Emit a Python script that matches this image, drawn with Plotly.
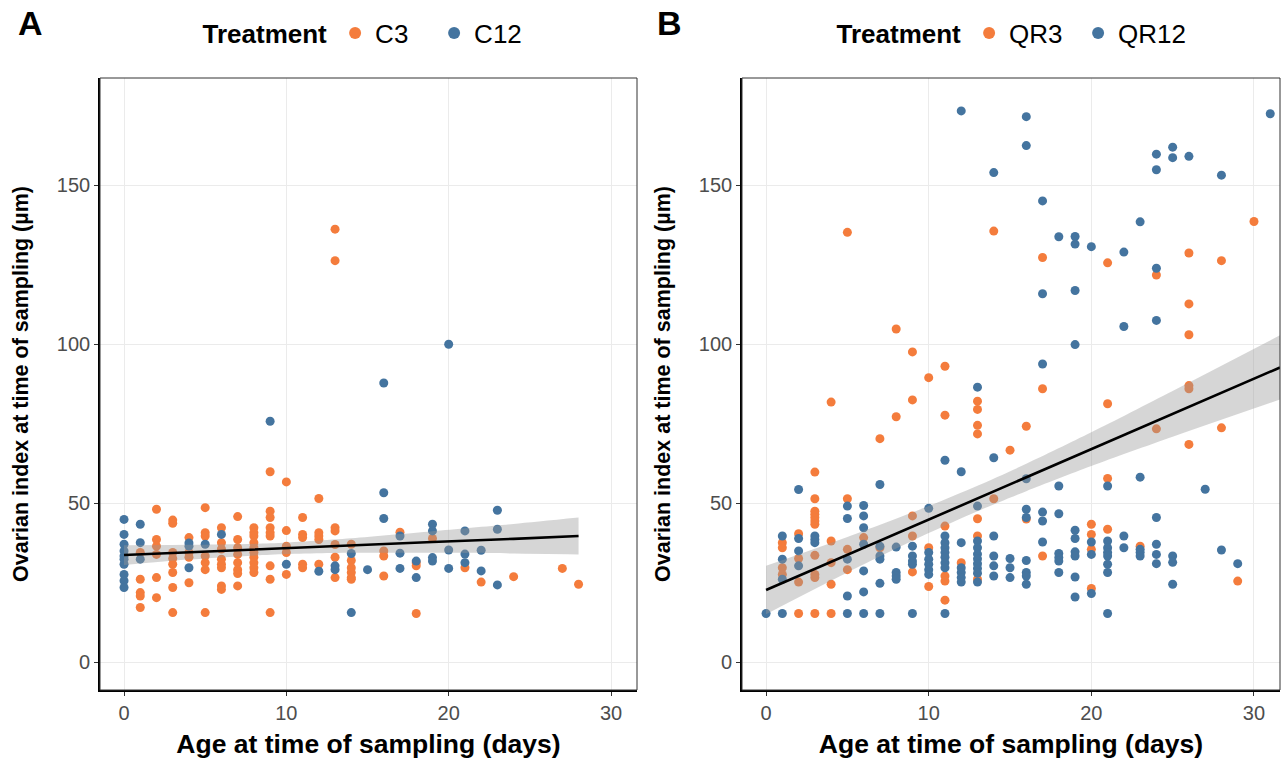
import numpy as np
import plotly.graph_objects as go
from plotly.subplots import make_subplots

# ---------------- Panel A data (C3 orange, C12 blue) ----------------
a_c12 = {
    0: [44.9, 40.2, 37.1, 35.0, 33.4, 32.4, 30.8, 27.6, 25.6, 23.5],
    1: [43.4, 37.6, 32.4],
    4: [37.5, 36.5, 29.7],
    5: [37.1],
    6: [40.2],
    9: [75.8],
    10: [30.8],
    12: [28.6],
    13: [30.3, 29.1],
    14: [34.2, 15.6],
    15: [29.1],
    16: [87.8, 53.3, 45.2],
    17: [39.7, 34.3, 29.5],
    18: [31.8, 26.6],
    19: [43.4, 41.3, 32.9, 31.8],
    20: [100.0, 35.3, 29.5],
    21: [41.3, 34.0, 31.3],
    22: [35.2, 28.7],
    23: [47.8, 41.8, 24.3],
}
a_c3 = {
    1: [34.5, 26.1, 21.9, 20.8, 17.2],
    2: [48.1, 38.6, 36.5, 33.9, 26.6, 20.3],
    3: [44.7, 43.7, 34.5, 32.6, 30.8, 28.2, 23.5, 15.6],
    4: [39.2, 34.5, 33.0, 25.0],
    5: [48.6, 40.7, 39.7, 33.4, 31.3, 29.1, 15.6],
    6: [42.3, 37.6, 35.6, 32.4, 30.8, 29.7, 24.0, 22.9],
    7: [45.8, 38.6, 36.0, 33.9, 31.3, 29.1, 27.9, 24.0],
    8: [42.3, 40.7, 39.7, 37.6, 36.0, 34.5, 33.0, 31.3, 29.7, 28.2],
    9: [59.9, 47.5, 45.5, 42.3, 40.7, 39.7, 30.3, 26.1, 15.6],
    10: [56.7, 41.4, 36.5, 34.5, 27.6],
    11: [45.5, 40.2, 39.2, 30.8, 29.7],
    12: [51.5, 40.7, 39.7, 38.6, 30.8],
    13: [136.2, 126.3, 42.3, 41.3, 37.0, 33.0, 26.6],
    14: [37.1, 32.0, 29.7, 28.2, 26.6, 26.1],
    16: [35.0, 33.4, 27.1],
    17: [40.9],
    18: [31.3, 30.3, 15.3],
    19: [38.9],
    21: [29.7],
    22: [25.2],
    24: [26.9],
    27: [29.5],
    28: [24.5],
}

# ---------------- Panel B data (QR3 orange, QR12 blue) ----------------
b_qr3 = {
    1: [37.6, 36.0, 29.7, 27.6],
    2: [40.4, 32.6, 25.2, 15.3],
    3: [59.8, 51.4, 47.5, 46.5, 45.5, 44.4, 43.4, 33.6, 27.6, 26.6, 15.3],
    4: [81.8, 38.1, 31.3, 24.5, 15.3],
    5: [135.2, 51.4, 35.5, 29.1],
    6: [39.2],
    7: [70.3, 36.0],
    8: [104.8, 77.2],
    9: [97.6, 82.5, 46.0, 39.7, 28.4],
    10: [89.5, 36.0, 23.8],
    11: [93.1, 77.7, 42.8, 27.1, 25.5, 19.5],
    12: [31.3],
    13: [82.1, 79.5, 74.5, 71.8, 45.1, 39.7, 26.1],
    14: [135.6, 51.4],
    15: [66.7],
    16: [74.2, 45.0],
    17: [127.3, 86.0, 33.4],
    20: [43.4, 40.2, 35.5, 23.2],
    21: [125.6, 81.3, 57.8, 41.8],
    23: [36.5],
    24: [121.8, 73.4],
    26: [128.7, 112.7, 103.0, 87.0, 86.0, 68.5],
    28: [126.3, 73.7],
    29: [25.5],
    30: [138.6],
}
b_qr12 = {
    0: [15.3],
    1: [39.7, 32.4, 26.1, 15.3],
    2: [54.3, 38.9, 35.0, 30.3],
    3: [39.7, 38.6, 37.6],
    5: [49.1, 45.2, 32.4, 20.8, 15.3],
    6: [49.3, 46.0, 42.3, 37.1, 28.7, 22.1, 15.3],
    7: [55.9, 36.5, 33.4, 32.4, 24.8, 15.3],
    8: [36.2, 28.2, 27.1, 26.1],
    9: [36.5, 33.4, 31.8, 30.8, 15.3],
    10: [48.4, 34.5, 32.4, 30.8, 29.1, 27.6],
    11: [63.5, 39.7, 37.6, 36.0, 34.5, 33.0, 31.3, 29.7, 15.3],
    12: [173.4, 59.9, 37.6, 29.7, 28.2, 26.6, 25.2],
    13: [86.5, 49.1, 38.1, 36.0, 34.0, 32.5, 31.0, 29.5, 28.0, 25.2],
    14: [154.0, 64.3, 39.7, 33.4, 30.3, 27.1],
    15: [32.6, 29.7, 26.6],
    16: [171.6, 162.5, 57.7, 48.1, 45.5, 32.0, 28.2, 27.1, 24.5],
    17: [145.1, 115.9, 93.8, 47.2, 44.4, 37.8],
    18: [133.8, 55.4, 46.7, 34.2, 32.9, 31.8, 28.2],
    19: [133.9, 131.5, 116.9, 99.9, 41.5, 38.9, 34.7, 33.4, 26.8, 20.5],
    20: [130.7, 37.8, 33.9, 21.6],
    21: [55.4, 38.1, 36.0, 34.5, 33.4, 30.8, 28.2, 15.3],
    22: [129.0, 105.6, 39.7, 36.0],
    23: [138.5, 58.2, 35.5, 34.5, 33.4],
    24: [159.8, 154.9, 123.9, 107.5, 45.5, 37.1, 33.9, 31.0],
    25: [162.0, 158.7, 33.4, 31.4, 24.5],
    26: [159.1],
    27: [54.4],
    28: [153.2, 35.3],
    29: [31.0],
    31: [172.5],
}

# ---------------- Fitted line and 95% band ----------------
fitA_x = [0, 4, 9, 14, 19, 24, 28]
fitA_y = [33.7, 34.6, 35.6, 36.7, 37.8, 38.8, 39.7]
fitA_lo = [30.6, 32.3, 33.8, 34.4, 34.4, 34.2, 33.9]
fitA_hi = [36.8, 36.9, 37.4, 39.0, 41.2, 43.5, 45.5]

fitB_x = [0, 5, 10, 13, 16, 20, 25, 31.6]
fitB_y = [22.7, 33.8, 44.9, 51.5, 58.1, 67.0, 78.1, 92.7]
fitB_lo = [15.1, 28.2, 40.6, 47.5, 53.8, 61.7, 70.9, 82.6]
fitB_hi = [30.3, 39.4, 49.1, 55.5, 62.4, 72.3, 85.3, 102.8]

x_ticks = [0, 10, 20, 30]
y_ticks = [0, 50, 100, 150]
ORANGE = "#F47C3C"
BLUE = "#44749F"


def flatten(d):
    xs, ys = [], []
    for k, vals in d.items():
        for v in vals:
            xs.append(k)
            ys.append(v)
    return xs, ys


fig = make_subplots(rows=1, cols=2)

panels = [
    (1, a_c3, a_c12, "C3", "C12", "legend", (fitA_x, fitA_y, fitA_lo, fitA_hi)),
    (2, b_qr3, b_qr12, "QR3", "QR12", "legend2", (fitB_x, fitB_y, fitB_lo, fitB_hi)),
]
for col, d_or, d_bl, n_or, n_bl, leg, fit in panels:
    xo, yo = flatten(d_or)
    xb, yb = flatten(d_bl)
    fig.add_trace(go.Scatter(x=xo, y=yo, mode="markers", name=n_or, legend=leg,
                             legendrank=1,
                             marker=dict(color=ORANGE, size=9)), row=1, col=col)
    fig.add_trace(go.Scatter(x=xb, y=yb, mode="markers", name=n_bl, legend=leg,
                             legendrank=2,
                             marker=dict(color=BLUE, size=9)), row=1, col=col)
    fx, fy, flo, fhi = fit
    fig.add_trace(go.Scatter(x=fx, y=flo, mode="lines", showlegend=False,
                             line=dict(width=0, shape="spline", smoothing=0.8),
                             hoverinfo="skip"), row=1, col=col)
    fig.add_trace(go.Scatter(x=fx, y=fhi, mode="lines", showlegend=False,
                             fill="tonexty", fillcolor="rgba(153,153,153,0.4)",
                             line=dict(width=0, shape="spline", smoothing=0.8),
                             hoverinfo="skip"), row=1, col=col)
    fig.add_trace(go.Scatter(x=fx, y=fy, mode="lines", showlegend=False,
                             line=dict(color="black", width=2.6)), row=1, col=col)

FONT = "Liberation Sans, Arial, sans-serif"
x_dom = [[100 / 1287, 637 / 1287], [742 / 1287, 1280 / 1287]]
y_dom = [1 - 690 / 765, 1 - 78 / 765]

for i, ax in enumerate(["", "2"]):
    fig.layout["xaxis" + ax].update(
        domain=x_dom[i], range=[-1.48, 31.6], tickvals=x_ticks,
        showgrid=True, gridcolor="#EBEBEB", gridwidth=1.3, zeroline=False,
        showline=True, linecolor="black", linewidth=1.6,
        ticks="outside", ticklen=4, tickcolor="#333333",
        tickfont=dict(family=FONT, size=20, color="#4D4D4D"),
        title=dict(text="<b>Age at time of sampling (days)</b>",
                   font=dict(family=FONT, size=26.5, color="black"), standoff=12),
        automargin=False,
    )
    fig.layout["yaxis" + ax].update(
        domain=y_dom, range=[-8.75, 183.75], tickvals=y_ticks,
        showgrid=True, gridcolor="#EBEBEB", gridwidth=1.3, zeroline=False,
        showline=True, linecolor="black", linewidth=1.6,
        ticks="outside", ticklen=4, tickcolor="#333333",
        tickfont=dict(family=FONT, size=20, color="#4D4D4D"),
        title=dict(text="<b>Ovarian index at time of sampling (µm)</b>",
                   font=dict(family=FONT, size=21.5, color="black"), standoff=22),
        automargin=False,
    )
    fig.add_shape(type="rect", xref="x%s domain" % ax, yref="y%s domain" % ax,
                  x0=0, x1=1, y0=0, y1=1, line=dict(color="#333333", width=1),
                  layer="above")

leg_common = dict(orientation="h", yanchor="middle", y=1 - 33 / 765,
                  xanchor="center", bgcolor="rgba(0,0,0,0)",
                  traceorder="normal",
                  font=dict(family=FONT, size=26, color="black"),
                  title=dict(text="<b>Treatment</b>", side="left",
                             font=dict(family=FONT, size=26, color="black")),
                  itemsizing="constant", itemwidth=30)
fig.update_layout(
    legend=dict(x=367 / 1287, entrywidth=54, **leg_common),
    legend2=dict(x=1011 / 1287, entrywidth=64, **leg_common),
)

fig.add_annotation(text="<b>A</b>", xref="paper", yref="paper", x=30 / 1287,
                   y=1 - 23 / 765, xanchor="center", yanchor="middle",
                   showarrow=False, font=dict(family=FONT, size=34, color="black"))
fig.add_annotation(text="<b>B</b>", xref="paper", yref="paper", x=669 / 1287,
                   y=1 - 23 / 765, xanchor="center", yanchor="middle",
                   showarrow=False, font=dict(family=FONT, size=34, color="black"))

fig.update_layout(width=1287, height=765, margin=dict(l=0, r=0, t=0, b=0),
                  plot_bgcolor="white", paper_bgcolor="white", showlegend=True)

fig.write_html("out.html")
